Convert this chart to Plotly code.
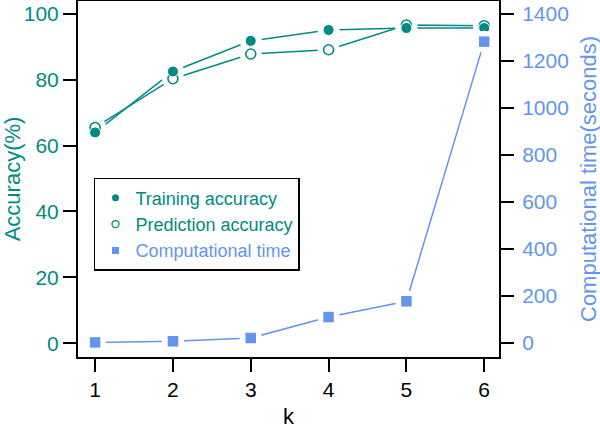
import plotly.graph_objects as go

k = [1, 2, 3, 4, 5, 6]
training_acc = [64.0, 82.5, 91.8, 95.1, 95.7, 95.7]
prediction_acc = [65.5, 80.3, 87.8, 89.1, 96.6, 96.4]
comp_time = [2, 7, 21, 110, 177, 1282]

TEAL = "rgb(0,139,130)"
BLUE = "rgb(100,149,237)"
FONT = "Liberation Sans, Arial, sans-serif"

fig = go.Figure()

# lines
fig.add_trace(go.Scatter(x=k, y=training_acc, mode="lines", line=dict(color=TEAL, width=1.5),
                         showlegend=False, hoverinfo="skip"))
fig.add_trace(go.Scatter(x=k, y=prediction_acc, mode="lines", line=dict(color=TEAL, width=1.5),
                         showlegend=False, hoverinfo="skip"))
# white halos to create gaps between lines and markers
for ys in [training_acc, prediction_acc]:
    fig.add_trace(go.Scatter(x=k, y=ys, mode="markers",
                             marker=dict(symbol="circle", size=22, color="white", line=dict(width=0)),
                             showlegend=False, hoverinfo="skip"))
fig.add_trace(go.Scatter(x=k, y=comp_time, mode="lines", line=dict(color=BLUE, width=1.5),
                         yaxis="y2", showlegend=False, hoverinfo="skip"))
fig.add_trace(go.Scatter(x=k, y=comp_time, mode="markers", yaxis="y2",
                         marker=dict(symbol="circle", size=22, color="white", line=dict(width=0)),
                         showlegend=False, hoverinfo="skip"))
# markers
fig.add_trace(go.Scatter(x=k, y=prediction_acc, mode="markers",
                         marker=dict(symbol="circle-open", size=10, color=TEAL, line=dict(width=1.6, color=TEAL)),
                         showlegend=False))
fig.add_trace(go.Scatter(x=k, y=training_acc, mode="markers",
                         marker=dict(symbol="circle", size=11, color=TEAL, line=dict(width=1, color="white")),
                         showlegend=False))
fig.add_trace(go.Scatter(x=k, y=comp_time, mode="markers", yaxis="y2",
                         marker=dict(symbol="square", size=10.5, color=BLUE, line=dict(width=0)),
                         showlegend=False))

# legend-only entries
fig.add_trace(go.Scatter(x=[None], y=[None], mode="markers",
                         marker=dict(symbol="circle", size=7, color=TEAL),
                         name=f"<span style='color:{TEAL}'>Training accuracy</span>"))
fig.add_trace(go.Scatter(x=[None], y=[None], mode="markers",
                         marker=dict(symbol="circle-open", size=7, color=TEAL, line=dict(width=1.3, color=TEAL)),
                         name=f"<span style='color:{TEAL}'>Prediction accuracy</span>"))
fig.add_trace(go.Scatter(x=[None], y=[None], mode="markers",
                         marker=dict(symbol="square", size=7, color=BLUE),
                         name=f"<span style='color:{BLUE}'>Computational time</span>"))

fig.update_layout(
    width=600, height=428,
    margin=dict(l=78, r=101, t=1, b=71),
    paper_bgcolor="white", plot_bgcolor="white",
    font=dict(family=FONT, size=21, color="black"),
    xaxis=dict(range=[0.78, 6.19], tickvals=k, ticktext=[str(v) for v in k], automargin=False,
               showgrid=False, zeroline=False, showline=True, mirror=True,
               linecolor="black", linewidth=2, ticks="outside", ticklen=13, tickwidth=2,
               tickcolor="black", tickfont=dict(size=21, color="black")),
    yaxis=dict(range=[-4.2, 103.9], tickvals=[0, 20, 40, 60, 80, 100], automargin=False,
               showgrid=False, zeroline=False, showline=True, mirror=True,
               linecolor="black", linewidth=2, ticks="outside", ticklen=13, tickwidth=2,
               tickcolor="black", tickfont=dict(size=21, color=TEAL),
               title=dict(text="Accuracy(%)", font=dict(size=22, color=TEAL), standoff=0)),
    yaxis2=dict(range=[-60, 1455], tickvals=[0, 200, 400, 600, 800, 1000, 1200, 1400],
                overlaying="y", side="right", showgrid=False, zeroline=False, automargin=False,
                showline=True, linecolor="black", linewidth=2, ticks="outside", ticklen=13,
                tickwidth=2, tickcolor="black", tickfont=dict(size=21, color=BLUE),
                ticklabelstandoff=4),
    annotations=[
        dict(text="k", xref="paper", yref="paper", x=0.5, y=-0.1685, xanchor="center",
             yanchor="middle", showarrow=False, font=dict(size=22, color="black")),
        dict(text="Computational time(seconds)", xref="paper", yref="paper", x=1.2114, y=0.5,
             xanchor="center", yanchor="middle", textangle=-90, showarrow=False,
             font=dict(size=22, color=BLUE)),
    ],
    legend=dict(x=0.038, y=0.503, xanchor="left", yanchor="top",
                bgcolor="white", bordercolor="black", borderwidth=1.5,
                font=dict(size=18), itemsizing="trace", tracegroupgap=0),
    showlegend=True,
)

fig.write_html("out.html", config={"displayModeBar": False},
               post_script="document.body.style.margin='0px';")
